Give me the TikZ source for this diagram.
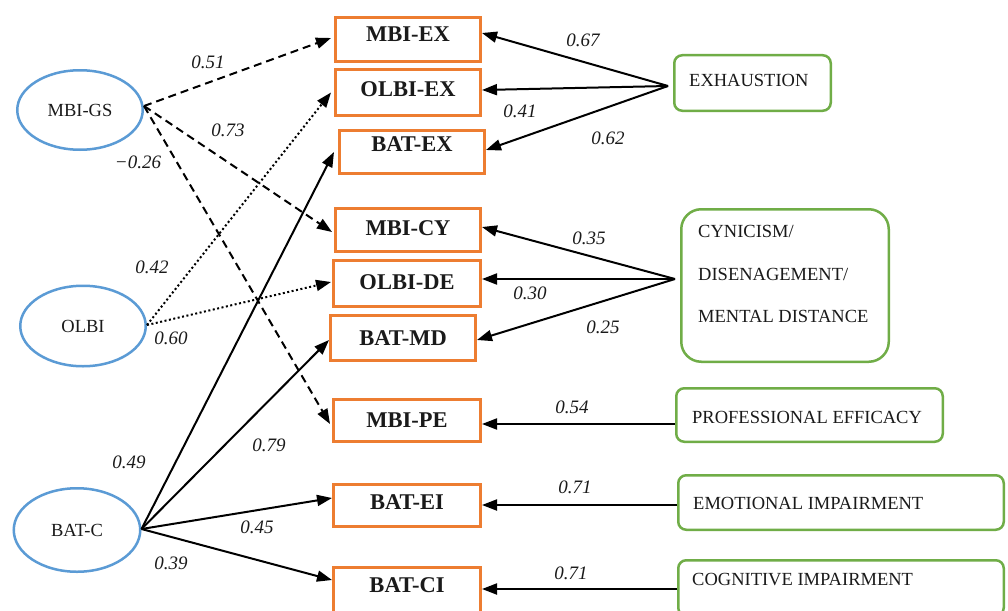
\documentclass[tikz,border=0pt]{standalone}
\usepackage{fontspec}
\setmainfont{Liberation Serif}
\usetikzlibrary{arrows.meta,calc,shapes.geometric}
\definecolor{obord}{HTML}{ED7D31}
\definecolor{gbord}{HTML}{70AD47}
\definecolor{ebord}{HTML}{5B9BD5}
\definecolor{txt}{HTML}{1A1A1A}
\begin{document}
\begin{tikzpicture}[x=1pt,y=-1pt,
 lat/.style={ellipse, draw=ebord, line width=2.5pt, inner sep=0pt, font=\fontsize{18.5}{22}\selectfont, text=txt},
 obox/.style={draw=obord, line width=3pt, inner sep=0pt},
 olab/.style={font=\fontsize{22.5}{27}\selectfont\bfseries, text=txt, inner sep=0pt},
 gbox/.style={draw=gbord, line width=2.5pt, rounded corners=8pt, inner sep=0pt},
 glab/.style={font=\fontsize{18.5}{42.5}\selectfont, text=txt, inner sep=0pt, anchor=west, align=left},
 coef/.style={font=\fontsize{19}{22}\selectfont\itshape, text=txt, inner sep=0pt},
 arr/.style={line width=2pt, -{Triangle[length=15pt,width=11pt]}},
 dsh/.style={arr, dash pattern=on 8pt off 5pt},
 dtt/.style={arr, dash pattern=on 2pt off 2.5pt},
]
\useasboundingbox[fill=white] (0,0) rectangle (1008,610);

% latent ellipses
\node[lat, minimum width=125.5pt, minimum height=79.5pt] (gs) at (80,110) {MBI-GS};
\node[lat, minimum width=125.5pt, minimum height=80.5pt] (olbi) at (83,326) {OLBI};
\node[lat, minimum width=126.5pt, minimum height=83.5pt] (batc) at (77,530) {BAT-C};

% orange indicator boxes
\node[obox, minimum width=145pt, minimum height=44pt, label={[olab, yshift=5pt]center:MBI-EX}] (mbiex) at (408,39.5) {};
\node[obox, minimum width=145pt, minimum height=46pt, label={[olab, yshift=3pt]center:OLBI-EX}] (olbiex) at (408,92.5) {};
\node[obox, minimum width=145pt, minimum height=43pt, label={[olab, yshift=7.5pt]center:BAT-EX}] (batex) at (412,152) {};
\node[obox, minimum width=145pt, minimum height=43pt, label={[olab, yshift=1.5pt]center:MBI-CY}] (mbicy) at (408,230) {};
\node[obox, minimum width=147pt, minimum height=46pt, label={[olab, yshift=1pt]center:OLBI-DE}] (olbide) at (407,283.5) {};
\node[obox, minimum width=145pt, minimum height=45pt, label={[olab]center:BAT-MD}] (batmd) at (403,338) {};
\node[obox, minimum width=147pt, minimum height=42pt, label={[olab]center:MBI-PE}] (mbipe) at (407,420.5) {};
\node[obox, minimum width=147pt, minimum height=42pt, label={[olab, yshift=3pt]center:BAT-EI}] (batei) at (407,505.5) {};
\node[obox, minimum width=147pt, minimum height=45pt, label={[olab, yshift=4.5pt]center:BAT-CI}] (batci) at (407,590) {};

% green factor boxes
\node[gbox, minimum width=156.5pt, minimum height=55.5pt, label={[glab, xshift=16pt, yshift=3pt]west:EXHAUSTION}] (exh) at (752.5,83) {};
\node[gbox, rounded corners=20pt, minimum width=207.5pt, minimum height=152.5pt, label={[glab, xshift=18pt, yshift=11.5pt]west:CYNICISM/\\DISENAGEMENT/\\MENTAL DISTANCE}] (cyn) at (785,285.5) {};
\node[gbox, minimum width=266.5pt, minimum height=53.5pt, label={[glab, xshift=17pt, yshift=-2pt]west:PROFESSIONAL EFFICACY}] (pe) at (809.5,415) {};
\node[gbox, minimum width=325.5pt, minimum height=54.5pt, label={[glab, xshift=16pt, yshift=-0.5pt]west:EMOTIONAL IMPAIRMENT}] (ei) at (841,502.5) {};
\node[gbox, minimum width=325.5pt, minimum height=55.5pt, label={[glab, xshift=15pt, yshift=8pt]west:COGNITIVE IMPAIRMENT}] (ci) at (841,588) {};

% convergence points
\coordinate (gso) at ($(gs.east)+(0,-4)$);
\coordinate (olo) at ($(olbi.east)+(0,-1)$);
\coordinate (bco) at ($(batc.east)+(0,-1)$);
\coordinate (exo) at ($(exh.west)+(-5,3)$);
\coordinate (cyo) at ($(cyn.west)+(-5,-6.5)$);

% MBI-GS dashed
\draw[dsh] (gso) -- ($(mbiex.west)+(-3,-1.5)$);
\draw[dsh] (gso) -- ($(mbicy.west)+(-2,2)$);
\draw[dsh] (gso) -- ($(mbipe.west)+(-2,3.5)$);
% OLBI dotted
\draw[dtt] (olo) -- ($(olbiex.west)+(-3,0)$);
\draw[dtt] (olo) -- ($(olbide.west)+(-1,-1.5)$);
% BAT-C solid
\draw[arr] (bco) -- ($(batex.west)+(-4,0)$);
\draw[arr] (bco) -- ($(batmd.west)+(0,2)$);
\draw[arr] (bco) -- ($(batei.west)+(0,-7.5)$);
\draw[arr] (bco) -- ($(batci.west)+(0,-10)$);

% right-hand factors
\draw[arr] (exo) -- ($(mbiex.east)+(0,-6.5)$);
\draw[arr] (exo) -- ($(olbiex.east)+(0,-2.5)$);
\draw[arr] (exo) -- ($(batex.east)+(0,-2)$);
\draw[arr] (cyo) -- ($(mbicy.east)+(0,-3)$);
\draw[arr] (cyo) -- ($(olbide.east)+(0,-4.5)$);
\draw[arr] (cyo) -- ($(batmd.east)+(0,2)$);
\draw[arr] ($(pe.west)+(0,9)$) -- ($(mbipe.east)+(0,3.5)$);
\draw[arr] ($(ei.west)+(0,2.5)$) -- ($(batei.east)+(0,-0.5)$);
\draw[arr] ($(ci.west)+(0,1)$) -- ($(batci.east)+(0,-1)$);

% coefficients
\node[coef] (c1) at (208,62) {0.51};
\node[coef] (c2) at (228,130) {0.73};
\node[coef] (c3) at (138,162) {−0.26};
\node[coef] (c4) at (152,267) {0.42};
\node[coef] (c5) at (171,338) {0.60};
\node[coef] (c6) at (129,462) {0.49};
\node[coef] (c7) at (269,445) {0.79};
\node[coef] (c8) at (257,527) {0.45};
\node[coef] (c9) at (171,563) {0.39};
\node[coef] (c10) at (583,40) {0.67};
\node[coef] (c11) at (520,111) {0.41};
\node[coef] (c12) at (608,138) {0.62};
\node[coef] (c13) at (589,238) {0.35};
\node[coef] (c14) at (530,293) {0.30};
\node[coef] (c15) at (603,327) {0.25};
\node[coef] (c16) at (572,407) {0.54};
\node[coef] (c17) at (575,487) {0.71};
\node[coef] (c18) at (571,573) {0.71};
\end{tikzpicture}
\end{document}
